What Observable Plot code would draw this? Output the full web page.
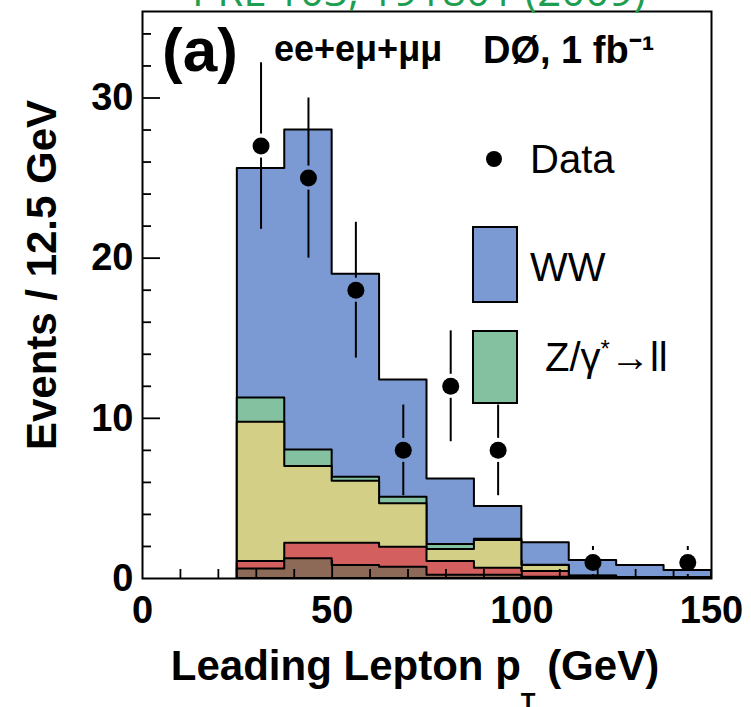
<!DOCTYPE html>
<html>
<head>
<meta charset="utf-8">
<script src="https://cdn.jsdelivr.net/npm/d3@7"></script>
<script src="https://cdn.jsdelivr.net/npm/@observablehq/plot@0.6"></script>
<style>
  body { margin: 0; background: #fff; }
  #chart { width: 751px; height: 707px; overflow: hidden; }
</style>
</head>
<body>
<div id="chart"></div>
<script>
// ---------------- data ----------------
const binEdges = [25, 37.5, 50, 62.5, 75, 87.5, 100, 112.5, 125, 137.5, 150];
const dataCounts = [27, 25, 18, 8, 12, 8, 0, 1, 0, 1];
const dataErrors = [5.2, 5.0, 4.24, 2.83, 3.46, 2.83, 0, 1, 0, 1];

// stacked MC components (per-bin contributions), bottom to top
const bkgBrown  = [0.60, 1.23, 0.81, 0.71, 0.20, 0.20, 0.08, 0.05, 0.03, 0.02];
const bkgRed    = [0.46, 0.97, 1.39, 1.24, 0.86, 0.44, 0.36, 0.07, 0.02, 0.01];
const bkgYellow = [8.69, 4.80, 3.87, 2.71, 0.75, 1.73, 0.37, 0.02, 0.01, 0.01];
const zGammaLL  = [1.52, 1.03, 0.25, 0.41, 0.31, 0.08, 0.02, 0.01, 0.01, 0.01];
const wwSignal  = [14.33, 19.97, 12.68, 7.33, 4.10, 2.05, 1.40, 0.97, 0.74, 0.45];

const componentNames = ["WZ/ZZ", "tt̄", "W+jets", "Z/γ*→ll", "WW"];
const componentValues = [bkgBrown, bkgRed, bkgYellow, zGammaLL, wwSignal];

const xTickLabels = [0, 50, 100, 150];
const xMinorTicks = [10, 20, 30, 40, 60, 70, 80, 90, 110, 120, 130, 140];
const xMajorTicks = [50, 100];
const yTickLabels = [0, 10, 20, 30];
const yMinorTicks = [2, 4, 6, 8, 12, 14, 16, 18, 22, 24, 26, 28, 32, 34];
const yMajorTicks = [10, 20, 30];

// ---------------- style ----------------
const componentColors = ["#8c6a57", "#d35f5f", "#d3cf86", "#83c1a1", "#7b99d2"];
const W = 751, H = 707, mL = 142, mR = 40, mT = 11, mB = 129;
const frameW = W - mL - mR, frameH = H - mT - mB;
const FONT = "Liberation Sans, Arial, Helvetica, sans-serif";

// cumulative layers (drawn largest first, like stacked ROOT histograms)
let cum = new Array(dataCounts.length).fill(0);
const layers = componentValues.map((vals, k) => {
  cum = cum.map((c, i) => c + vals[i]);
  return { name: componentNames[k], top: cum.slice() };
});
const areaPts = [];
layers.slice().reverse().forEach(L => {
  areaPts.push({ layer: L.name, x: binEdges[0], y: 0 });
  L.top.forEach((t, i) => areaPts.push({ layer: L.name, x: binEdges[i], y: t }));
  areaPts.push({ layer: L.name, x: binEdges[binEdges.length - 1], y: L.top[L.top.length - 1] });
  areaPts.push({ layer: L.name, x: binEdges[binEdges.length - 1], y: 0 });
});

const pts = dataCounts.map((n, i) => ({
  x: (binEdges[i] + binEdges[i + 1]) / 2, n, err: dataErrors[i]
})).filter(d => d.n > 0);

// ---------------- annotations (rich text) ----------------
function annotations() {
  const g = d3.create("svg:g").attr("font-family", FONT).attr("fill", "black").attr("text-anchor", "start");
  g.append("text").attr("x", 192).attr("y", 6).attr("font-family", "Open Sans, sans-serif")
    .attr("font-size", 42).attr("fill", "#1e9e50").text("PRL 103, 191801 (2009)");
  g.append("text").attr("x", 162).attr("y", 71).attr("font-size", 62).attr("font-weight", "bold").text("(a)");
  g.append("text").attr("x", 274).attr("y", 61).attr("font-size", 36).attr("font-weight", "bold").text("ee+eμ+μμ");
  g.append("text").attr("x", 483).attr("y", 63).attr("font-size", 38).attr("font-weight", "bold").text("DØ, 1 fb⁻¹");
  // legend
  g.append("circle").attr("cx", 494).attr("cy", 159).attr("r", 8).attr("fill", "black");
  g.append("text").attr("x", 530).attr("y", 173).attr("font-size", 40).text("Data");
  g.append("rect").attr("x", 473).attr("y", 227).attr("width", 44).attr("height", 75)
    .attr("fill", componentColors[4]).attr("stroke", "black").attr("stroke-width", 2);
  g.append("text").attr("x", 530).attr("y", 281).attr("font-size", 40).text("WW");
  g.append("rect").attr("x", 473).attr("y", 331).attr("width", 44).attr("height", 72)
    .attr("fill", componentColors[3]).attr("stroke", "black").attr("stroke-width", 2);
  const z = g.append("text").attr("x", 545).attr("y", 371).attr("font-size", 40);
  z.append("tspan").text("Z/γ");
  z.append("tspan").attr("font-size", 24).attr("dy", -14).text("*");
  z.append("tspan").attr("dy", 14).text("→ll");
  // axis titles
  g.append("text").attr("transform", "translate(56,275) rotate(-90)").attr("text-anchor", "middle")
    .attr("font-size", 42).attr("font-weight", "bold").text("Events / 12.5 GeV");
  const xt = g.append("text").attr("x", 415).attr("y", 680).attr("text-anchor", "middle")
    .attr("font-size", 42).attr("font-weight", "bold");
  xt.append("tspan").text("Leading Lepton p");
  xt.append("tspan").attr("font-size", 24).attr("dy", 30).text("T");
  xt.append("tspan").attr("dy", -30).text(" (GeV)");
  return g.node();
}

const chart = Plot.plot({
  width: W, height: H,
  marginLeft: mL, marginRight: mR, marginTop: mT, marginBottom: mB,
  style: { fontFamily: FONT, background: "white", color: "black" },
  x: { domain: [0, 150], axis: null },
  y: { domain: [0, 35.4], axis: null },
  color: { domain: componentNames, range: componentColors },
  marks: [
    Plot.areaY(areaPts, { x: "x", y1: 0, y2: "y", z: "layer", fill: "layer",
      stroke: "black", strokeWidth: 2, curve: "step-after" }),
    Plot.ruleX(pts, { x: "x", y1: d => d.n + d.err, y2: "n", insetBottom: 12, stroke: "black", strokeWidth: 2 }),
    Plot.ruleX(pts, { x: "x", y1: "n", y2: d => d.n - d.err, insetTop: 12, stroke: "black", strokeWidth: 2 }),
    Plot.dot(pts, { x: "x", y: "n", r: 8.5, fill: "black" }),
    // inward ticks
    Plot.ruleX(xMinorTicks, { x: d => d, insetTop: frameH - 9, stroke: "black", strokeWidth: 1.8 }),
    Plot.ruleX(xMajorTicks, { x: d => d, insetTop: frameH - 18, stroke: "black", strokeWidth: 1.8 }),
    Plot.ruleY(yMinorTicks, { y: d => d, insetRight: frameW - 9, stroke: "black", strokeWidth: 1.8 }),
    Plot.ruleY(yMajorTicks, { y: d => d, insetRight: frameW - 18, stroke: "black", strokeWidth: 1.8 }),
    Plot.frame({ stroke: "black", strokeWidth: 2 }),
    // tick labels
    Plot.text(xTickLabels, { x: d => d, text: d => String(d), frameAnchor: "bottom", dy: 44,
      fontSize: 38, fontWeight: "bold", fill: "black" }),
    Plot.text(yTickLabels, { y: d => d, text: d => String(d), frameAnchor: "left", textAnchor: "end",
      dx: -9, fontSize: 38, fontWeight: "bold", fill: "black" }),
    annotations
  ]
});
document.getElementById("chart").appendChild(chart);
</script>
</body>
</html>
